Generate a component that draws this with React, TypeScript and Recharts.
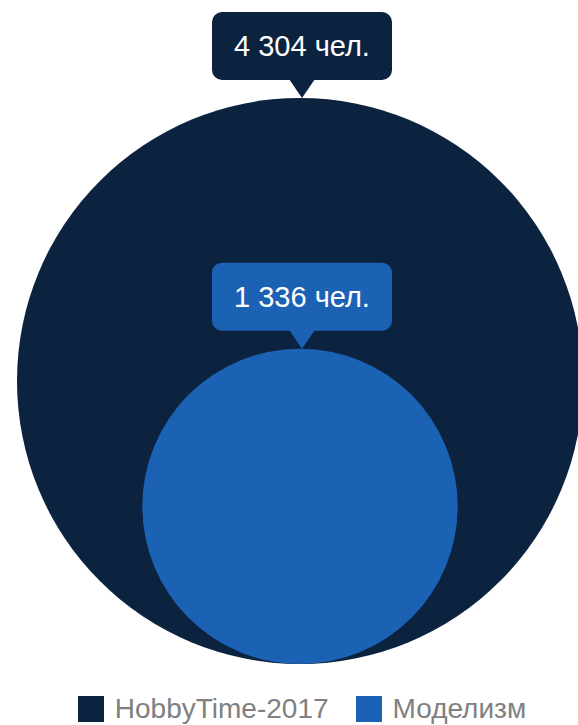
import React from 'react';
import { ScatterChart, Scatter, XAxis, YAxis, ZAxis, Legend } from 'recharts';

// ---- data ----
const SERIES_NAMES = ['HobbyTime-2017', 'Моделизм'];
const SERIES_VALUES = [4304, 1336];
const SERIES_COLORS = ['#0c2340', '#1c62b4'];
const UNIT = 'чел.';

// each bubble anchored to the same baseline point (x=0, y=0)
const hobbyData = [{ x: 0, y: 0, value: SERIES_VALUES[0] }];
const modelData = [{ x: 0, y: 0, value: SERIES_VALUES[1] }];

const BIG_R = 283;
const FONT = '"Liberation Sans", Arial, sans-serif';

const fmt = (v: number) => String(v).replace(/\B(?=(\d{3})+(?!\d))/g, ' ');

const makeShape = (color: string) => (props: any) => {
  const { cx, cy, size, payload, node } = props;
  const r = Math.sqrt(Math.max(size || 0, 0) / Math.PI);
  const top = cy - 2 * r;
  const boxW = 180;
  const boxH = 68;
  const gap = 18;
  const boxBottom = top - gap;
  const boxTop = boxBottom - boxH;
  const bx = cx + 2;
  const value = payload?.value ?? node?.z;
  return (
    <g>
      <circle cx={cx} cy={cy - r} r={r} fill={color} />
      <rect x={bx - boxW / 2} y={boxTop} width={boxW} height={boxH} rx={10} ry={10} fill={color} />
      <path d={`M${bx - 13},${boxBottom - 1} L${bx},${top} L${bx + 13},${boxBottom - 1} Z`} fill={color} />
      <text
        x={bx}
        y={boxTop + 44}
        textAnchor="middle"
        fill="#ffffff"
        fontFamily={FONT}
        fontSize={29}
      >
        {`${fmt(value)} ${UNIT}`}
      </text>
    </g>
  );
};

const renderLegend = (props: any) => {
  const payload = (props && props.payload && props.payload.length ? props.payload : SERIES_NAMES.map((n, i) => ({ value: n, color: SERIES_COLORS[i] })));
  return (
    <div
      style={{
        display: 'flex',
        justifyContent: 'center',
        alignItems: 'center',
        fontFamily: FONT,
        fontSize: 28,
        color: '#808080',
        height: 30,
        lineHeight: '30px',
        paddingLeft: 26,
        boxSizing: 'border-box',
      }}
    >
      {payload.map((e: any, i: number) => (
        <div key={e.value} style={{ display: 'flex', alignItems: 'center', marginRight: i === 0 ? 27 : 0 }}>
          <span style={{ display: 'inline-block', width: 26, height: 26, background: e.color, marginRight: 11 }} />
          <span>{e.value}</span>
        </div>
      ))}
    </div>
  );
};

export default function App() {
  return (
    <div style={{ position: 'absolute', left: 0, top: 0, width: 578, height: 725, background: '#ffffff' }}>
      <ScatterChart width={578} height={725} margin={{ top: 0, right: 0, bottom: 61, left: 22 }}>
        <XAxis type="number" dataKey="x" domain={[-1, 1]} hide />
        <YAxis type="number" dataKey="y" domain={[0, 1]} hide />
        <ZAxis type="number" dataKey="value" domain={[0, SERIES_VALUES[0]]} range={[0, Math.PI * BIG_R * BIG_R]} />
        <Legend
          verticalAlign="top"
          content={renderLegend}
          wrapperStyle={{ top: 694, left: 0, width: 578 }}
        />
        <Scatter
          name={SERIES_NAMES[0]}
          data={hobbyData}
          fill={SERIES_COLORS[0]}
          shape={makeShape(SERIES_COLORS[0])}
          isAnimationActive={false}
        />
        <Scatter
          name={SERIES_NAMES[1]}
          data={modelData}
          fill={SERIES_COLORS[1]}
          shape={makeShape(SERIES_COLORS[1])}
          isAnimationActive={false}
        />
      </ScatterChart>
    </div>
  );
}
